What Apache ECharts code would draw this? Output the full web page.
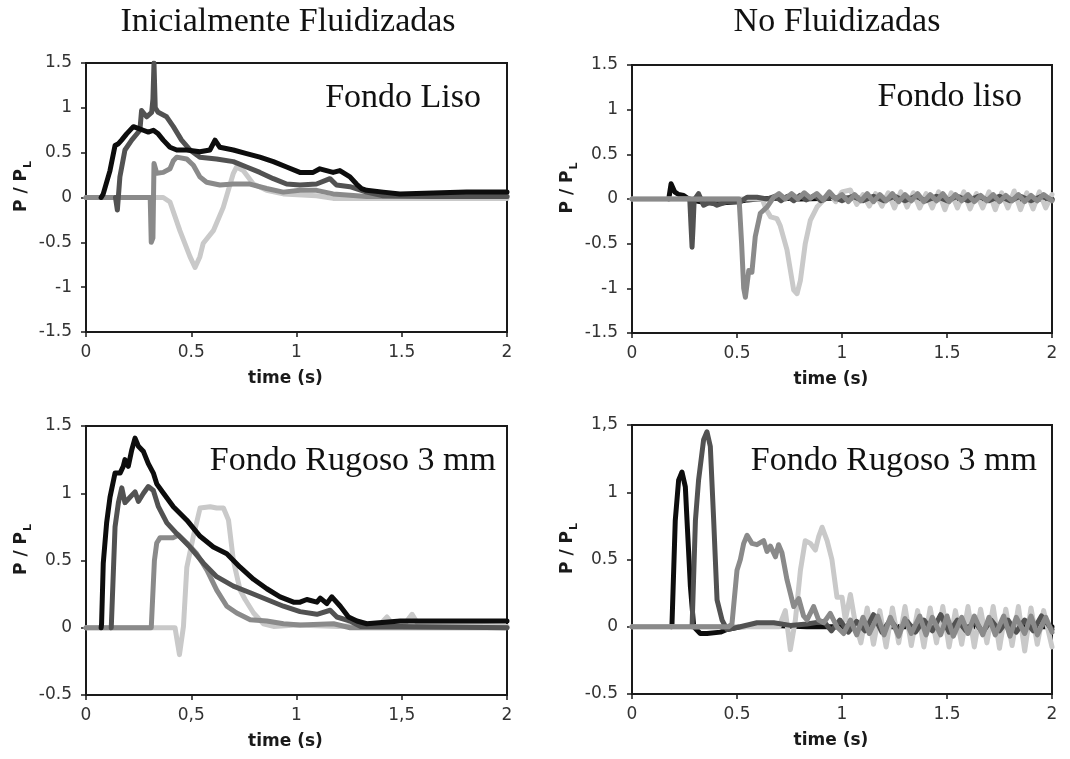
<!DOCTYPE html>
<html><head><meta charset="utf-8">
<script src="https://cdn.jsdelivr.net/npm/echarts@6/dist/echarts.min.js"></script>
<style>html,body{margin:0;padding:0;background:#fff}#c{width:1070px;height:759px}</style>
</head><body><div id="c"></div>
<script>
// ---------- text ----------
const columnTitles = ['Inicialmente Fluidizadas', 'No Fluidizadas'];
const panelLabels = ['Fondo Liso', 'Fondo liso', 'Fondo Rugoso 3 mm', 'Fondo Rugoso 3 mm'];
const xName = 'time (s)';
// ---------- tick labels ----------
const xTicksTL = ['0', '0.5', '1', '1.5', '2'];
const xTicksTR = ['0', '0.5', '1', '1.5', '2'];
const xTicksBL = ['0', '0,5', '1', '1,5', '2'];
const xTicksBR = ['0', '0.5', '1', '1.5', '2'];
const yTicksTop = ['-1.5', '-1', '-0.5', '0', '0.5', '1', '1.5'];
const yTicksBL = ['-0.5', '0', '0.5', '1', '1.5'];
const yTicksBR = ['-0.5', '0', '0.5', '1', '1,5'];

// ---------- data: [time (s), P/PL] ----------
const tlBlack = [[0.072,0],[0.082,0.04],[0.114,0.30],[0.138,0.58],[0.154,0.60],[0.169,0.64],[0.193,0.71],[0.225,0.79],[0.248,0.77],[0.272,0.75],[0.296,0.73],[0.320,0.75],[0.343,0.71],[0.367,0.64],[0.399,0.56],[0.431,0.53],[0.478,0.53],[0.541,0.51],[0.589,0.53],[0.613,0.64],[0.636,0.56],[0.700,0.53],[0.763,0.49],[0.826,0.45],[0.890,0.40],[0.953,0.34],[1.016,0.28],[1.079,0.28],[1.111,0.32],[1.174,0.28],[1.206,0.30],[1.254,0.23],[1.285,0.15],[1.309,0.10],[1.333,0.08],[1.412,0.06],[1.491,0.04],[1.649,0.05],[1.808,0.06],[2.0,0.06]];
const tlDark = [[0.140,0.0],[0.149,-0.14],[0.161,0.23],[0.185,0.53],[0.217,0.64],[0.256,0.75],[0.264,0.97],[0.288,0.90],[0.312,0.95],[0.318,1.1],[0.323,1.5],[0.329,1.0],[0.343,0.95],[0.383,0.90],[0.415,0.79],[0.454,0.64],[0.494,0.53],[0.541,0.45],[0.620,0.43],[0.700,0.40],[0.763,0.34],[0.826,0.28],[0.890,0.21],[0.953,0.15],[1.016,0.14],[1.095,0.15],[1.159,0.21],[1.190,0.14],[1.254,0.12],[1.333,0.06],[1.412,0.02],[1.649,0.01],[2.0,0.01]];
const tlMid = [[0,0],[0.305,0],[0.310,-0.50],[0.318,-0.45],[0.323,0.38],[0.336,0.27],[0.367,0.28],[0.399,0.32],[0.415,0.41],[0.431,0.45],[0.478,0.43],[0.510,0.36],[0.541,0.23],[0.573,0.17],[0.636,0.14],[0.700,0.15],[0.779,0.15],[0.858,0.10],[0.937,0.06],[1.016,0.08],[1.095,0.08],[1.174,0.04],[1.333,0.01],[2.0,0.01]];
const tlLight = [[0,0],[0.367,0],[0.399,-0.05],[0.446,-0.37],[0.494,-0.66],[0.518,-0.78],[0.541,-0.66],[0.557,-0.51],[0.605,-0.37],[0.652,-0.11],[0.700,0.27],[0.715,0.34],[0.747,0.30],[0.795,0.15],[0.858,0.08],[0.937,0.04],[1.095,0.02],[1.174,-0.01],[2.0,-0.01]];

const trBlack = [[0.175,0],[0.186,0.17],[0.195,0.18],[0.203,0.08],[0.222,0.05],[0.246,0.04],[0.27,0.0],[0.30,-0.02],[0.35,-0.04],[0.40,-0.05],[0.45,-0.04],[0.50,-0.03],[0.55,-0.01],[0.60,0.0],[0.70,0.01],[0.80,0.0],[1.0,0.01],[1.5,0.0],[2.0,0.0]];
const trDark = [[0.275,0],[0.281,-0.30],[0.286,-0.54],[0.291,-0.30],[0.296,-0.01],[0.317,0.06],[0.341,-0.07],[0.373,-0.03],[0.405,-0.07],[0.452,-0.03],[0.516,-0.03],[0.548,0.02],[0.595,0.02],[0.643,0.0],[0.68,0.03],[0.71,-0.02],[0.74,0.03],[0.77,-0.02],[0.80,0.04],[0.83,-0.01],[0.87,0.04],[0.90,-0.02],[0.95,0.03],[1.0,-0.02],[1.05,0.03],[1.1,-0.02],[1.15,0.03],[1.2,-0.02],[1.25,0.03],[1.3,-0.02],[1.35,0.03],[1.4,-0.02],[1.45,0.03],[1.5,-0.02],[1.55,0.03],[1.6,-0.02],[1.65,0.03],[1.7,-0.02],[1.75,0.03],[1.8,-0.02],[1.85,0.03],[1.9,-0.02],[1.95,0.03],[2.0,-0.01]];
const trMid = [[0,0],[0.51,0],[0.522,-0.5],[0.532,-1.0],[0.540,-1.10],[0.548,-0.95],[0.556,-0.80],[0.571,-0.82],[0.587,-0.42],[0.611,-0.16],[0.643,-0.09],[0.675,0.02],[0.70,0.06],[0.73,0.0],[0.76,0.06],[0.79,0.0],[0.82,0.07],[0.85,0.01],[0.88,0.06],[0.91,-0.01],[0.94,0.08],[0.97,0.0],[1.0,0.05],[1.03,-0.03],[1.06,0.05],[1.09,-0.02],[1.12,0.06],[1.15,-0.03],[1.18,0.05],[1.21,-0.02],[1.24,0.06],[1.27,-0.03],[1.30,0.05],[1.33,-0.02],[1.36,0.06],[1.39,-0.03],[1.42,0.05],[1.45,-0.02],[1.48,0.06],[1.51,-0.03],[1.54,0.05],[1.57,-0.02],[1.60,0.05],[1.63,-0.03],[1.66,0.04],[1.69,-0.02],[1.72,0.05],[1.75,-0.03],[1.78,0.04],[1.81,-0.02],[1.84,0.05],[1.87,-0.03],[1.90,0.04],[1.93,-0.02],[1.96,0.05],[2.0,-0.02]];
const trLight = [[0,0],[0.62,0],[0.64,-0.12],[0.66,-0.2],[0.69,-0.22],[0.706,-0.30],[0.738,-0.57],[0.770,-1.02],[0.786,-1.06],[0.802,-0.91],[0.825,-0.50],[0.849,-0.24],[0.881,-0.09],[0.913,-0.01],[0.94,0.06],[0.97,-0.03],[1.0,0.08],[1.04,0.1],[1.07,-0.06],[1.10,0.05],[1.13,-0.08],[1.16,0.06],[1.19,-0.08],[1.22,0.07],[1.25,-0.1],[1.28,0.08],[1.31,-0.09],[1.34,0.07],[1.37,-0.1],[1.40,0.06],[1.43,-0.1],[1.46,0.08],[1.49,-0.12],[1.52,0.07],[1.55,-0.1],[1.58,0.08],[1.61,-0.11],[1.64,0.06],[1.67,-0.1],[1.70,0.08],[1.73,-0.12],[1.76,0.07],[1.79,-0.1],[1.82,0.09],[1.85,-0.12],[1.88,0.07],[1.91,-0.11],[1.94,0.08],[1.97,-0.1],[2.0,0.05]];

const blBlack = [[0.072,0],[0.074,0.03],[0.082,0.48],[0.098,0.78],[0.114,0.97],[0.138,1.15],[0.162,1.15],[0.177,1.20],[0.185,1.25],[0.201,1.20],[0.217,1.32],[0.233,1.41],[0.249,1.35],[0.273,1.31],[0.296,1.22],[0.320,1.15],[0.336,1.07],[0.368,1.00],[0.415,0.90],[0.479,0.80],[0.542,0.68],[0.605,0.60],[0.669,0.55],[0.732,0.45],[0.796,0.36],[0.859,0.29],[0.922,0.23],[0.986,0.19],[1.017,0.19],[1.049,0.21],[1.097,0.19],[1.113,0.22],[1.144,0.18],[1.168,0.23],[1.208,0.16],[1.247,0.08],[1.287,0.05],[1.334,0.03],[1.493,0.05],[1.651,0.05],[1.810,0.05],[2.0,0.05]];
const blDark = [[0.12,0],[0.138,0.75],[0.154,0.93],[0.170,1.04],[0.185,0.93],[0.209,0.97],[0.233,1.01],[0.249,0.94],[0.273,1.00],[0.296,1.05],[0.320,1.02],[0.344,0.90],[0.384,0.78],[0.431,0.70],[0.494,0.60],[0.558,0.48],[0.621,0.38],[0.700,0.31],[0.780,0.26],[0.859,0.21],[0.938,0.16],[1.017,0.12],[1.097,0.10],[1.160,0.13],[1.192,0.08],[1.255,0.05],[1.303,0.01],[1.493,0.01],[2.0,0.0]];
const blMid = [[0,0],[0.31,0],[0.325,0.5],[0.336,0.63],[0.352,0.67],[0.415,0.67],[0.439,0.69],[0.479,0.63],[0.526,0.55],[0.574,0.43],[0.621,0.28],[0.669,0.16],[0.716,0.11],[0.780,0.06],[0.859,0.05],[0.938,0.03],[1.017,0.02],[1.176,0.03],[1.255,0.0],[2.0,0.0]];
const blLight = [[0,0],[0.423,0],[0.444,-0.20],[0.463,0.01],[0.479,0.45],[0.510,0.68],[0.542,0.89],[0.590,0.90],[0.621,0.89],[0.653,0.89],[0.677,0.80],[0.700,0.50],[0.732,0.28],[0.756,0.21],[0.796,0.11],[0.843,0.03],[0.891,0.01],[1.0,0.02],[1.2,0.01],[1.40,0.03],[1.43,0.08],[1.46,0.02],[1.52,0.04],[1.549,0.10],[1.58,0.02],[1.7,0.03],[2.0,0.01]];

const brBlack = [[0.19,0],[0.206,0.79],[0.222,1.09],[0.238,1.15],[0.254,1.04],[0.262,0.79],[0.278,0.30],[0.294,0.0],[0.325,-0.05],[0.357,-0.05],[0.421,-0.04],[0.452,-0.02],[0.516,0.0],[0.675,0.01],[0.833,0.0],[1.2,0.0],[2.0,0.0]];
const brDark = [[0.286,0],[0.302,0.79],[0.317,1.09],[0.341,1.39],[0.357,1.45],[0.373,1.34],[0.389,0.79],[0.405,0.20],[0.429,0.05],[0.452,-0.02],[0.516,0.0],[0.595,0.03],[0.675,0.03],[0.754,0.01],[0.833,0.02],[0.913,0.04],[0.95,-0.03],[0.99,0.05],[1.03,-0.04],[1.07,0.04],[1.11,-0.03],[1.15,0.09],[1.19,-0.04],[1.23,0.05],[1.27,-0.03],[1.31,0.04],[1.35,-0.04],[1.39,0.05],[1.43,-0.03],[1.47,0.09],[1.51,-0.04],[1.55,0.05],[1.59,-0.03],[1.63,0.04],[1.67,-0.04],[1.71,0.05],[1.75,-0.03],[1.79,0.05],[1.83,-0.04],[1.87,0.05],[1.91,-0.03],[1.95,0.08],[2.0,-0.02]];
const brMid = [[0,0],[0.46,0],[0.476,0.02],[0.5,0.42],[0.516,0.50],[0.532,0.62],[0.548,0.68],[0.571,0.62],[0.595,0.61],[0.627,0.64],[0.643,0.56],[0.659,0.60],[0.683,0.52],[0.698,0.61],[0.714,0.55],[0.738,0.35],[0.770,0.15],[0.794,0.21],[0.817,0.08],[0.833,0.05],[0.865,0.15],[0.889,0.05],[0.913,0.03],[0.944,0.10],[0.976,0.0],[1.008,-0.05],[1.040,0.05],[1.07,-0.06],[1.10,0.07],[1.13,-0.05],[1.17,0.08],[1.20,-0.06],[1.23,0.07],[1.27,-0.07],[1.30,0.06],[1.33,-0.05],[1.37,0.08],[1.40,-0.06],[1.43,0.07],[1.47,-0.06],[1.50,0.08],[1.53,-0.07],[1.57,0.07],[1.60,-0.05],[1.63,0.08],[1.67,-0.06],[1.70,0.07],[1.73,-0.06],[1.77,0.08],[1.80,-0.07],[1.83,0.07],[1.87,-0.05],[1.90,0.08],[1.93,-0.06],[1.97,0.07],[2.0,-0.04]];
const brLight = [[0,0],[0.70,0],[0.730,0.12],[0.754,-0.17],[0.778,0.05],[0.802,0.42],[0.825,0.64],[0.849,0.62],[0.873,0.57],[0.889,0.67],[0.905,0.74],[0.929,0.64],[0.952,0.50],[0.976,0.22],[1.0,0.22],[1.016,0.05],[1.040,0.24],[1.063,0.03],[1.09,-0.12],[1.12,0.14],[1.15,-0.13],[1.18,0.12],[1.21,-0.15],[1.24,0.14],[1.27,-0.12],[1.30,0.15],[1.33,-0.14],[1.36,0.12],[1.39,-0.15],[1.42,0.14],[1.45,-0.12],[1.48,0.15],[1.51,-0.15],[1.54,0.12],[1.57,-0.13],[1.60,0.15],[1.63,-0.15],[1.66,0.13],[1.69,-0.12],[1.72,0.15],[1.75,-0.16],[1.78,0.13],[1.81,-0.14],[1.84,0.15],[1.87,-0.18],[1.90,0.14],[1.93,-0.13],[1.96,0.12],[2.0,-0.15]];

// ---------- styling ----------
const colors = { light: '#c9c9c9', mid: '#8a8a8a', dark: '#525252', black: '#0d0d0d' };
const sans = 'DejaVu Sans';

// draw order (bottom -> top) per panel: arrays of [data, colour]
const panels = [
  { grid: {left: 86, top: 63, width: 421, height: 269}, xT: xTicksTL, yT: yTicksTop, ymin: -1.5, ymax: 1.5,
    lines: [[tlLight, colors.light], [tlMid, colors.mid], [tlDark, colors.dark], [tlBlack, colors.black]],
    label: panelLabels[0], lx: 481, ly: 98 },
  { grid: {left: 632, top: 65, width: 420, height: 268}, xT: xTicksTR, yT: yTicksTop, ymin: -1.5, ymax: 1.5,
    lines: [[trBlack, colors.black], [trLight, colors.light], [trDark, colors.dark], [trMid, colors.mid]],
    label: panelLabels[1], lx: 1022, ly: 97 },
  { grid: {left: 86, top: 426, width: 421, height: 269}, xT: xTicksBL, yT: yTicksBL, ymin: -0.5, ymax: 1.5,
    lines: [[blLight, colors.light], [blMid, colors.mid], [blDark, colors.dark], [blBlack, colors.black]],
    label: panelLabels[2], lx: 496, ly: 461 },
  { grid: {left: 632, top: 425, width: 420, height: 269}, xT: xTicksBR, yT: yTicksBR, ymin: -0.5, ymax: 1.5,
    lines: [[brBlack, colors.black], [brLight, colors.light], [brDark, colors.dark], [brMid, colors.mid]],
    label: panelLabels[3], lx: 1037, ly: 461 }
];

const grid = [], xAxis = [], yAxis = [], series = [], graphic = [];
panels.forEach((p, i) => {
  grid.push(Object.assign({ show: true, borderColor: '#1a1a1a', borderWidth: 2, backgroundColor: '#fff' }, p.grid));
  xAxis.push({
    type: 'value', gridIndex: i, min: 0, max: 2, interval: 0.5,
    name: xName, nameLocation: 'middle', nameGap: 38,
    nameTextStyle: { fontFamily: sans, fontWeight: 'bold', fontSize: 17, color: '#1a1a1a', padding: [0, 22, 0, 0] },
    axisLine: { show: true, onZero: false, lineStyle: { color: '#1a1a1a', width: 2 } },
    axisTick: { show: true, length: 5, lineStyle: { color: '#1a1a1a', width: 1.5 } },
    axisLabel: { fontFamily: sans, fontSize: 17, color: '#333', margin: 12,
      formatter: (v) => p.xT[Math.round(v / 0.5)] },
    splitLine: { show: false }
  });
  yAxis.push({
    type: 'value', gridIndex: i, min: p.ymin, max: p.ymax, interval: 0.5,
    name: '{a|P / P}{b|L}', nameLocation: 'middle', nameGap: 52, nameRotate: 90,
    nameTextStyle: { padding: [0, 0, 0, 22], rich: {
      a: { fontFamily: sans, fontWeight: 'bold', fontSize: 17, color: '#1a1a1a', lineHeight: 24, verticalAlign: 'middle' },
      b: { fontFamily: sans, fontWeight: 'bold', fontSize: 11, color: '#1a1a1a', lineHeight: 24, verticalAlign: 'bottom', padding: [0, 0, 0, 1] }
    } },
    axisLine: { show: true, onZero: false, lineStyle: { color: '#1a1a1a', width: 2 } },
    axisTick: { show: true, length: 5, lineStyle: { color: '#1a1a1a', width: 1.5 } },
    axisLabel: { fontFamily: sans, fontSize: 17, color: '#333', margin: 14,
      formatter: (v) => p.yT[Math.round((v - p.ymin) / 0.5)] },
    splitLine: { show: false }
  });
  p.lines.forEach(([d, col], k) => {
    series.push({
      type: 'line', xAxisIndex: i, yAxisIndex: i, data: d, showSymbol: false, symbol: 'none',
      clip: true, z: 2 + k,
      lineStyle: { color: col, width: 5, cap: 'round', join: 'round' },
      itemStyle: { color: col }
    });
  });
  graphic.push({ type: 'text', x: p.lx, y: p.ly, z: 100,
    style: { text: p.label, font: '34px "Liberation Serif"', fill: '#111', align: 'right', verticalAlign: 'middle' } });
});
graphic.push({ type: 'text', x: 288, y: 22, style: { text: columnTitles[0], font: '34px "Liberation Serif"', fill: '#111', align: 'center', verticalAlign: 'middle' } });
graphic.push({ type: 'text', x: 837, y: 22, style: { text: columnTitles[1], font: '34px "Liberation Serif"', fill: '#111', align: 'center', verticalAlign: 'middle' } });

const chart = echarts.init(document.getElementById('c'), null, { renderer: 'canvas' });
chart.setOption({ animation: false, backgroundColor: '#fff', grid, xAxis, yAxis, series, graphic });
</script></body></html>
